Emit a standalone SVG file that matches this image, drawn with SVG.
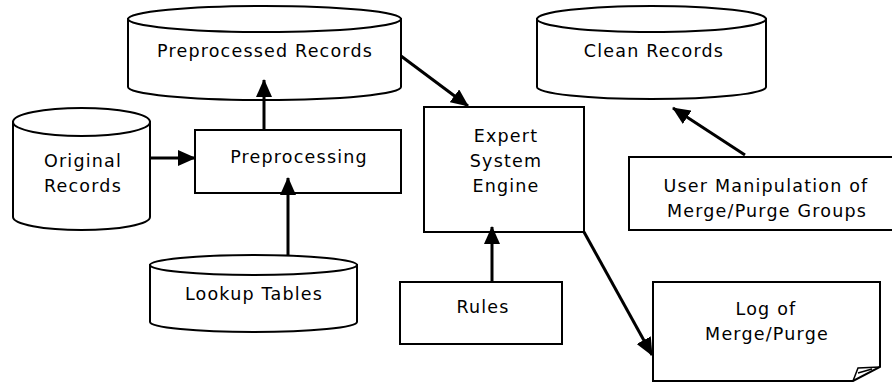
<svg xmlns="http://www.w3.org/2000/svg" width="892" height="384" viewBox="0 0 892 384">
<style>
.shape{fill:#fff;stroke:#000;stroke-width:2}
.lbl{font-family:"DejaVu Sans",Verdana,sans-serif;font-size:17.5px;letter-spacing:1.2px;text-anchor:middle;fill:#000}
.conn{stroke:#000;stroke-width:3;fill:none;marker-end:url(#ah)}
</style>
<defs>
<marker id="ah" markerUnits="userSpaceOnUse" markerWidth="18" markerHeight="16" refX="17" refY="8" orient="auto">
<path d="M0,0 L18,8 L0,16 Z" fill="#000"/>
</marker>
</defs>
<rect width="892" height="384" fill="#fff"/>
<g id="preprocessed-records">
<path class="shape" d="M128 19 L128 87 A136.5 13 0 0 0 401 87 L401 19 Z"/>
<ellipse class="shape" cx="264.5" cy="19" rx="136.5" ry="13"/>
<text class="lbl" x="265" y="57">Preprocessed Records</text>
</g>
<g id="original-records">
<path class="shape" d="M13 122 L13 217 A68.5 13 0 0 0 150 217 L150 122 Z"/>
<ellipse class="shape" cx="81.5" cy="122" rx="68.5" ry="14"/>
<text class="lbl" x="83" y="167">Original</text>
<text class="lbl" x="83" y="192">Records</text>
</g>
<g id="preprocessing">
<rect class="shape" x="195" y="130" width="206" height="63"/>
<text class="lbl" x="299" y="163">Preprocessing</text>
</g>
<g id="lookup-tables">
<path class="shape" d="M150 265 L150 322 A103.5 10 0 0 0 357 322 L357 265 Z"/>
<ellipse class="shape" cx="253.5" cy="265" rx="103.5" ry="10"/>
<text class="lbl" x="254" y="300">Lookup Tables</text>
</g>
<g id="expert-system-engine">
<rect class="shape" x="424" y="107" width="160" height="125"/>
<text class="lbl" x="506" y="142">Expert</text>
<text class="lbl" x="506" y="167">System</text>
<text class="lbl" x="506" y="192">Engine</text>
</g>
<g id="rules">
<rect class="shape" x="400" y="282" width="162" height="62"/>
<text class="lbl" x="483" y="313">Rules</text>
</g>
<g id="clean-records">
<path class="shape" d="M537 19 L537 87 A114.5 12 0 0 0 766 87 L766 19 Z"/>
<ellipse class="shape" cx="651.5" cy="19" rx="114.5" ry="13"/>
<text class="lbl" x="654" y="57">Clean Records</text>
</g>
<g id="user-manipulation">
<rect class="shape" x="629" y="157" width="270" height="73"/>
<text class="lbl" x="766" y="192">User Manipulation of</text>
<text class="lbl" x="767" y="217">Merge/Purge Groups</text>
</g>
<g id="log">
<path class="shape" d="M653 282 H880 V367 L853 381 H653 Z"/>
<path d="M853 381 L858 368 L880 367 M858 373 L872 369" fill="none" stroke="#000" stroke-width="1.5"/>
<text class="lbl" x="766" y="315">Log of</text>
<text class="lbl" x="767" y="340">Merge/Purge</text>
</g>
<g id="connectors">
<path class="conn" d="M151 158 L195 158"/>
<path class="conn" d="M264 130 L264 80"/>
<path class="conn" d="M288 255 L288 178"/>
<path class="conn" d="M401 56 L468 106"/>
<path class="conn" d="M492 282 L492 227"/>
<path class="conn" d="M584 232 L652 355"/>
<path class="conn" d="M745 155 L673 108"/>
</g>
</svg>
